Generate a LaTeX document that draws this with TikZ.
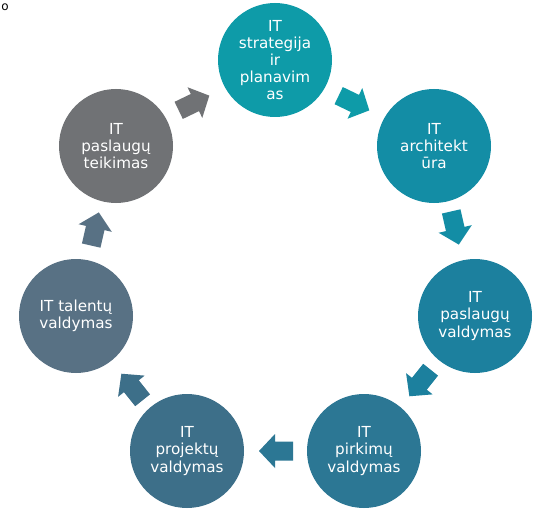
\documentclass[tikz,border=0pt]{standalone}
\usepackage{fontspec}
\setmainfont{DejaVu Sans}
\definecolor{c1}{RGB}{14,155,168}
\definecolor{c2}{RGB}{19,141,165}
\definecolor{c3}{RGB}{28,128,158}
\definecolor{c4}{RGB}{44,119,148}
\definecolor{c5}{RGB}{61,111,137}
\definecolor{c6}{RGB}{88,113,132}
\definecolor{c7}{RGB}{112,114,117}
\newcommand\chunkyarrow[3]{%
  \fill[#3, shift={#1}, rotate=#2] (-17,-9.5) -- (1,-9.5) -- (1,-17) -- (17,0) -- (1,17) -- (1,9.5) -- (-17,9.5) -- cycle;}
\begin{document}
\begin{tikzpicture}[x=1pt,y=-1pt,
  circ/.style={circle, minimum size=114pt, inner sep=0pt, text=white, align=center,
    font=\fontsize{15.2}{17.2}\selectfont}]
\clip (0,0) rectangle (539,511);
\fill[white] (0,0) rectangle (539,511);
\node[anchor=base, inner sep=0pt, font=\fontsize{12}{14}\selectfont] (frag) at (5,10.5) {o};
\node[circ, fill=c1] (n1) at (275,60) {IT\\strategija\\ir\\planavim\\as};
\node[circ, fill=c2] (n2) at (434,146) {IT\\architekt\\ūra};
\node[circ, fill=c3] (n3) at (475,316) {IT\\paslaugų\\valdymas};
\node[circ, fill=c4] (n4) at (364,451) {IT\\pirkimų\\valdymas};
\node[circ, fill=c5] (n5) at (187,451) {IT\\projektų\\valdymas};
\node[circ, fill=c6] (n6) at (76,316) {IT talentų\\valdymas};
\node[circ, fill=c7] (n7) at (116,146) {IT\\paslaugų\\teikimas};
\coordinate (a12) at (354,103);
\coordinate (a23) at (455,228);
\coordinate (a34) at (420,383);
\coordinate (a45) at (276,451);
\coordinate (a56) at (132,387);
\coordinate (a67) at (95,229);
\coordinate (a71) at (194,103);
\chunkyarrow{(a12)}{-25.7}{c1}
\chunkyarrow{(a23)}{-77.1}{c2}
\chunkyarrow{(a34)}{-128.6}{c3}
\chunkyarrow{(a45)}{180}{c4}
\chunkyarrow{(a56)}{128.6}{c5}
\chunkyarrow{(a67)}{77.1}{c6}
\chunkyarrow{(a71)}{25.7}{c7}
\end{tikzpicture}
\end{document}
